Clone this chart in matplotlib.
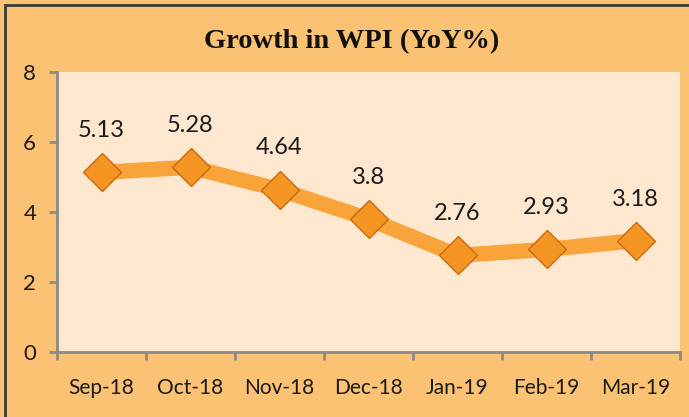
import numpy as np
import matplotlib.pyplot as plt
from matplotlib.patches import Rectangle

months = ['Sep-18', 'Oct-18', 'Nov-18', 'Dec-18', 'Jan-19', 'Feb-19', 'Mar-19']
wpi = [5.13, 5.28, 4.64, 3.8, 2.76, 2.93, 3.18]
labels = ['5.13', '5.28', '4.64', '3.8', '2.76', '2.93', '3.18']

fig = plt.figure(figsize=(6.89, 4.17), dpi=100, facecolor='#FCC274')
ax = fig.add_axes([57/689, 65/417, 623/689, 280/417])
ax.set_facecolor('#FDE7CF')

# outer frame (top / left visible)
fig.patches.append(Rectangle((5/689, -0.05), 1.2, 1 - 5/417 + 0.05, transform=fig.transFigure,
                             facecolor='none', edgecolor='#3a3a3a', linewidth=2, zorder=0))

x = np.arange(len(months))
ax.plot(x, wpi, color='#F8A43A', linewidth=11, solid_capstyle='round', zorder=2)
ax.plot(x, wpi, linestyle='none', marker='D', markersize=19,
        markerfacecolor='#F39423', markeredgecolor='#C86A10', markeredgewidth=1, zorder=3)

for xi, v, t in zip(x, wpi, labels):
    ax.annotate(t, (xi, v), xytext=(0, 30), textcoords='offset points',
                ha='center', va='center', fontsize=17, family='Lato', color='#1a1a1a')

ax.set_xlim(-0.5, len(months) - 0.5)
ax.set_ylim(0, 8)
ax.set_yticks([0, 2, 4, 6, 8])
ax.set_xticks(x)
ax.set_xticklabels(months)
ax.set_xticks(np.arange(-0.5, len(months)), minor=True)
ax.tick_params(axis='x', which='major', length=0, pad=19, labelsize=15)
ax.tick_params(axis='x', which='minor', length=6, width=2, color='#8a8a8a', direction='out')
ax.tick_params(axis='y', length=6, width=2, color='#8a8a8a', pad=9, labelsize=16)
for lab in ax.get_xticklabels() + ax.get_yticklabels():
    lab.set_family('Lato')
    lab.set_color('#1a1a1a')

for s in ['top', 'right']:
    ax.spines[s].set_visible(False)
for s in ['left', 'bottom']:
    ax.spines[s].set_color('#8a8a8a')
    ax.spines[s].set_linewidth(2)

fig.text(352/689, 1 - 42/417, 'Growth in WPI (YoY%)', ha='center', va='center',
         fontsize=20.5, fontweight='bold', family='Liberation Serif', color='#111111')

fig.savefig('out.png', dpi=100, facecolor=fig.get_facecolor())
